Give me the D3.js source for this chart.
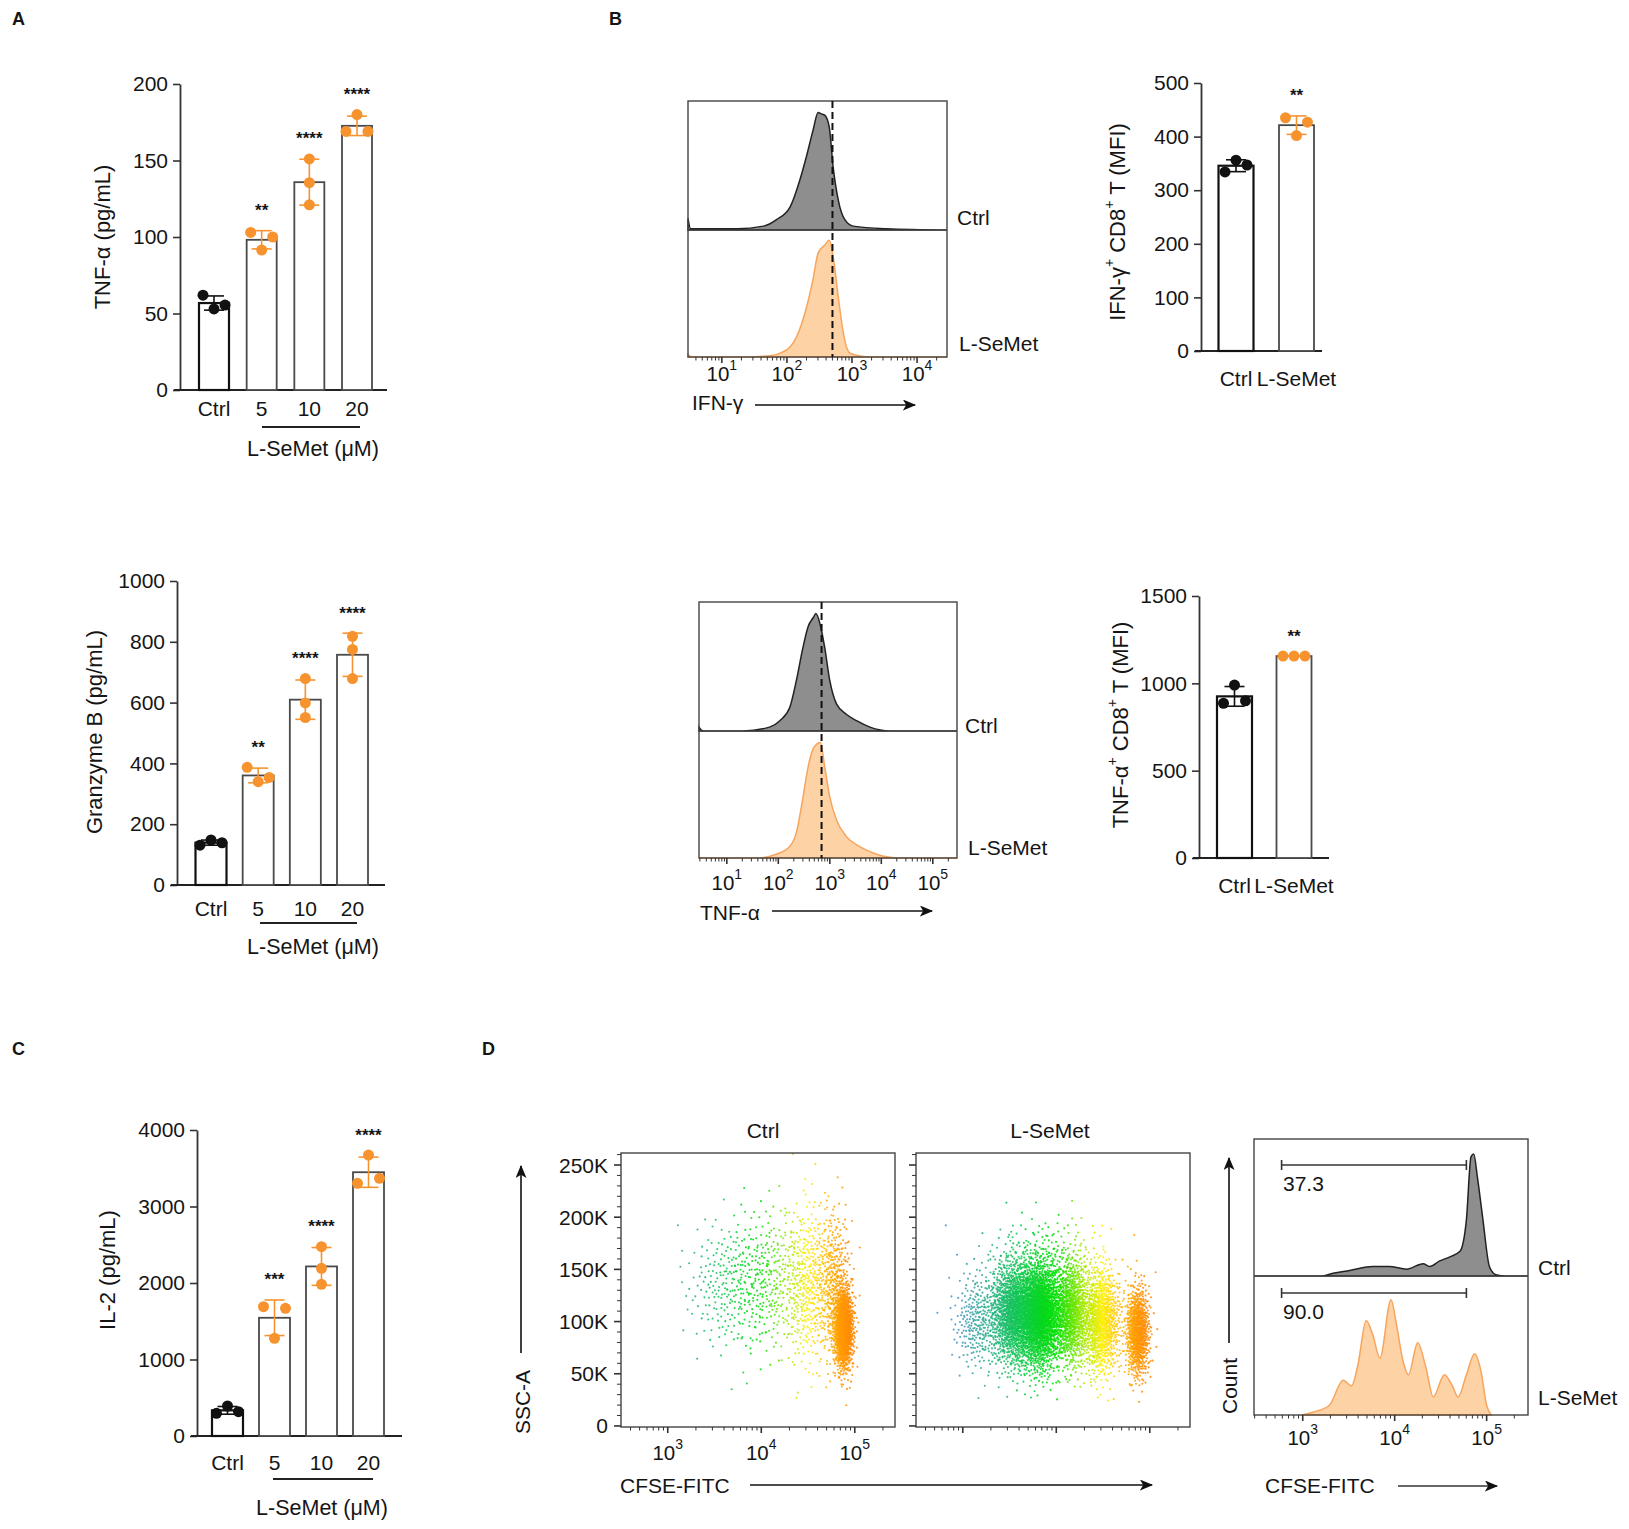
<!DOCTYPE html>
<html><head><meta charset="utf-8">
<script src="https://cdn.jsdelivr.net/npm/d3@7"></script>
<style>
body{margin:0;background:#fff}
text{font-family:"Liberation Sans",Arial,sans-serif;fill:#151515}
</style>
</head><body>
<svg id="fig" width="1629" height="1529"></svg>
<script>
// ================= DATA =================
const doseCategories = ["Ctrl", "5", "10", "20"];
const twoGroups = ["Ctrl", "L-SeMet"];

const tnfPoints  = [[62, 53, 55.5], [103, 91.5, 100], [151, 135.5, 121], [180, 169, 169]];
const tnfStars   = ["", "**", "****", "****"];
const tnfTicks   = [0, 50, 100, 150, 200];

const gzmbPoints = [[131, 148, 139], [387, 340, 354], [679, 599, 551], [818, 775, 679]];
const gzmbStars  = ["", "**", "****", "****"];
const gzmbTicks  = [0, 200, 400, 600, 800, 1000];

const il2Points  = [[296, 392, 318], [1690, 1669, 1277], [2475, 2192, 1983], [3673, 3303, 3368]];
const il2Stars   = ["", "***", "****", "****"];
const il2Ticks   = [0, 1000, 2000, 3000, 4000];

const ifnMfiPoints = [[334, 356, 347], [435, 402, 427]];
const ifnMfiStars  = ["", "**"];
const ifnMfiTicks  = [0, 100, 200, 300, 400, 500];

const tnfMfiPoints = [[990, 886, 900], [1156, 1156, 1156]];
const tnfMfiStars  = ["", "**"];
const tnfMfiTicks  = [0, 500, 1000, 1500];

// Flow histograms: [log10 intensity, relative height of lane]
const ifnHistCtrl = [[0.48,0.09],[0.52,0.01],[0.71,0.01],[1.23,0.01],[1.64,0.03],[1.84,0.08],[2.05,0.18],[2.2,0.39],[2.30,0.57],[2.40,0.77],[2.48,0.91],[2.53,0.90],[2.58,0.89],[2.65,0.80],[2.71,0.49],[2.79,0.23],[2.89,0.08],[3.02,0.03],[3.53,0.01],[4.46,0.0]];
const ifnHistSeMet = [[0.48,0.02],[0.55,0.0],[1.23,0.0],[1.74,0.01],[1.94,0.04],[2.15,0.16],[2.30,0.39],[2.40,0.61],[2.48,0.82],[2.58,0.88],[2.65,0.92],[2.71,0.79],[2.79,0.47],[2.87,0.18],[2.97,0.03],[3.28,0.0],[4.46,0.0]];
const ifnDashed = 2.70;

const tnfHistCtrl = [[0.46,0.03],[0.54,0.0],[1.32,0.0],[1.83,0.03],[2.03,0.08],[2.22,0.18],[2.35,0.39],[2.48,0.65],[2.58,0.81],[2.68,0.88],[2.73,0.91],[2.81,0.83],[2.90,0.65],[3.0,0.39],[3.13,0.21],[3.32,0.13],[3.52,0.08],[3.78,0.03],[4.17,0.0],[5.47,0.0]];
const tnfHistSeMet = [[0.46,0.0],[1.58,0.0],[1.96,0.03],[2.22,0.09],[2.35,0.2],[2.48,0.48],[2.58,0.72],[2.69,0.87],[2.82,0.91],[2.90,0.72],[3.0,0.48],[3.13,0.3],[3.32,0.17],[3.58,0.09],[3.91,0.03],[4.36,0.0],[5.47,0.0]];
const tnfDashed = 2.84;

const cfseHistCtrl = [[2.47,0.0],[3.2,0.0],[3.33,0.02],[3.51,0.04],[3.76,0.07],[3.94,0.07],[4.13,0.05],[4.31,0.09],[4.38,0.07],[4.49,0.11],[4.60,0.14],[4.71,0.18],[4.78,0.41],[4.83,0.87],[4.86,0.89],[4.90,0.72],[4.96,0.41],[5.03,0.07],[5.10,0.01],[5.21,0.0],[5.45,0.0]];
const cfseHistSeMet = [[2.99,0.0],[3.11,0.02],[3.29,0.07],[3.44,0.25],[3.53,0.21],[3.60,0.36],[3.69,0.68],[3.76,0.58],[3.84,0.41],[3.96,0.83],[4.02,0.65],[4.09,0.39],[4.15,0.29],[4.25,0.52],[4.34,0.34],[4.42,0.13],[4.54,0.29],[4.62,0.22],[4.69,0.13],[4.78,0.29],[4.87,0.44],[4.94,0.31],[5.0,0.07],[5.05,0.0]];
const cfseGate = [2.77, 4.78];
const cfseGateValues = ["37.3", "90.0"];

// CFSE vs SSC-A dot-plot populations: [log10 CFSE centre, SSC-A centre (K), log spread, SSC spread (K), events]
const scatterCtrl = [[3.65,135,0.22,30,240],[4.1,140,0.2,35,280],[4.5,135,0.13,38,420],[4.78,135,0.09,35,420],[4.88,93,0.05,19,1300]];
const scatterSeMet = [[3.15,100,0.12,22,260],[3.55,108,0.13,25,1500],[3.82,106,0.12,25,2200],[4.17,108,0.1,25,1000],[4.48,100,0.1,25,1000],[4.87,90,0.06,21,900],[3.9,150,0.35,25,300]];
const sscTicks = [0, 50, 100, 150, 200, 250];
const cfseColorStops = [2.9, 3.3, 3.6, 4.0, 4.3, 4.5, 4.72, 4.95];
const cfseColors = ["#4a8fc8", "#20b080", "#10c850", "#00e000", "#a8e800", "#ffee00", "#ffb000", "#ff8a00"];

// ================= DRAWING =================
const svg = d3.select("#fig");
svg.append("rect").attr("width",1629).attr("height",1529).attr("fill","#fff");
const ORANGE = "#f7932f";
const defs = svg.append("defs");
defs.append("marker").attr("id","arr").attr("viewBox","0 0 12 10").attr("refX",11).attr("refY",5)
  .attr("markerWidth",14).attr("markerHeight",11).attr("markerUnits","userSpaceOnUse").attr("orient","auto")
  .append("path").attr("d","M0,0 L12,5 L0,10 L3,5 Z").attr("fill","#111");

function arrow(x1,y1,x2,y2,col){
  svg.append("line").attr("x1",x1).attr("y1",y1).attr("x2",x2).attr("y2",y2)
    .attr("stroke",col||"#111").attr("stroke-width",1.6).attr("marker-end","url(#arr)");
}
function txt(x,y,s,opt){
  opt=opt||{};
  const t=svg.append("text").attr("x",x).attr("y",y).attr("font-size",opt.size||21)
    .attr("text-anchor",opt.anchor||"start").attr("dominant-baseline","central").text(s);
  if(opt.weight) t.attr("font-weight",opt.weight);
  return t;
}

// panel letters
[["A",12,19],["B",609,19],["C",12,1049],["D",482,1049]].forEach(([l,x,y])=>txt(x,y,l,{size:18,weight:"bold"}));

function layoutPoints(vals, y){
  const idx = vals.map((v,i)=>i).sort((a,b)=>vals[b]-vals[a]);
  const rows=[]; let cur=[idx[0]];
  for(let k=1;k<idx.length;k++){
    if(Math.abs(y(vals[idx[k]])-y(vals[idx[k-1]]))<11) cur.push(idx[k]); else {rows.push(cur);cur=[idx[k]];}
  }
  rows.push(cur);
  const off = new Array(vals.length).fill(0);
  rows.forEach(r=>{
    r.sort((a,b)=>a-b);
    if(r.length===2){off[r[0]]=-11;off[r[1]]=11;}
    else if(r.length>=3){r.forEach((i,j)=>off[i]=(j-(r.length-1)/2)*11);}
  });
  return off;
}

function barChart(c){
  const g = svg.append("g");
  const y = d3.scaleLinear().domain([0, c.ticks[c.ticks.length-1]]).range([c.yBottom, c.yTop]);
  const x = d3.scalePoint().domain(c.cats).range(c.centers);
  const ax = g.append("g").attr("transform",`translate(${c.axisX},0)`)
    .call(d3.axisLeft(y).tickValues(c.ticks).tickFormat(d3.format("d")).tickSize(7).tickPadding(5).tickSizeOuter(0));
  ax.select(".domain").attr("stroke","#333").attr("stroke-width",1.8);
  ax.selectAll(".tick line").attr("stroke","#333").attr("stroke-width",1.6);
  ax.selectAll(".tick text").attr("font-size",21).attr("font-family","Liberation Sans, Arial").attr("fill","#151515");
  g.append("line").attr("x1",c.axisX-6).attr("x2",c.xEnd).attr("y1",c.yBottom).attr("y2",c.yBottom)
    .attr("stroke","#222").attr("stroke-width",2);
  c.cats.forEach((cat,i)=>{
    const pts=c.points[i]; const m=d3.mean(pts); const sd=d3.deviation(pts);
    const cx=x(cat); const ctrl=i===0;
    g.append("rect").attr("x",cx-c.barW/2).attr("y",y(m)).attr("width",c.barW).attr("height",c.yBottom-y(m))
      .attr("fill","#fff").attr("stroke",ctrl?"#111":"#4a4a4a").attr("stroke-width",ctrl?2.2:1.8);
    const ec = ctrl?"#111":ORANGE;
    g.append("line").attr("x1",cx).attr("x2",cx).attr("y1",y(m+sd)).attr("y2",y(m-sd)).attr("stroke",ec).attr("stroke-width",1.6);
    [m+sd,m-sd].forEach(v=>g.append("line").attr("x1",cx-10).attr("x2",cx+10).attr("y1",y(v)).attr("y2",y(v)).attr("stroke",ec).attr("stroke-width",1.6));
    const off=layoutPoints(pts,y);
    pts.forEach((v,j)=>g.append("circle").attr("cx",cx+off[j]).attr("cy",y(v)).attr("r",5.5).attr("fill",ctrl?"#111":ORANGE));
    if(c.stars[i]) g.append("text").attr("x",cx).attr("y",y(Math.max(d3.max(pts),m+sd))-20)
      .attr("text-anchor","middle").attr("dominant-baseline","central").attr("font-size",17).attr("font-weight","bold").text(c.stars[i]);
    g.append("text").attr("x",cx).attr("y",c.catY).attr("text-anchor","middle").attr("dominant-baseline","central")
      .attr("font-size",21).text(cat);
  });
  if(c.under){
    g.append("line").attr("x1",c.under[0]).attr("x2",c.under[1]).attr("y1",c.under[2]).attr("y2",c.under[2]).attr("stroke","#222").attr("stroke-width",1.8);
    g.append("text").attr("x",c.under[3]).attr("y",c.under[4]).attr("text-anchor","middle").attr("dominant-baseline","central").attr("font-size",21.5).text("L-SeMet (μM)");
  }
  const yl = g.append("text").attr("transform",`translate(${c.yLab[0]},${c.yLab[1]}) rotate(-90)`)
    .attr("text-anchor","middle").attr("dominant-baseline","central").attr("font-size",22);
  c.yLabel.forEach(p=>{
    const t=yl.append("tspan").text(p[0]);
    if(p[1]) t.attr("baseline-shift","super").attr("font-size",14);
  });
}

barChart({ticks:tnfTicks,cats:doseCategories,points:tnfPoints,stars:tnfStars,axisX:180,yTop:84,yBottom:390,
  centers:[214,357],barW:30,xEnd:387,catY:408,under:[262,360,427,313,449],yLab:[102,237],yLabel:[["TNF-α (pg/mL)"]]});
barChart({ticks:gzmbTicks,cats:doseCategories,points:gzmbPoints,stars:gzmbStars,axisX:177,yTop:581,yBottom:885,
  centers:[211,352.5],barW:31,xEnd:385,catY:908,under:[260,357,923,313,947],yLab:[94,732],yLabel:[["Granzyme B (pg/mL)"]]});
barChart({ticks:il2Ticks,cats:doseCategories,points:il2Points,stars:il2Stars,axisX:197,yTop:1130,yBottom:1436,
  centers:[227.5,368.5],barW:31,xEnd:402,catY:1462,under:[273,373,1479,322,1508],yLab:[107,1270],yLabel:[["IL-2 (pg/mL)"]]});
barChart({ticks:ifnMfiTicks,cats:twoGroups,points:ifnMfiPoints,stars:ifnMfiStars,axisX:1201,yTop:83,yBottom:351,
  centers:[1236,1296.5],barW:35,xEnd:1322,catY:378,yLab:[1117,222],yLabel:[["IFN-γ"],["+",1],[" CD8"],["+",1],[" T (MFI)"]]});
barChart({ticks:tnfMfiTicks,cats:twoGroups,points:tnfMfiPoints,stars:tnfMfiStars,axisX:1199,yTop:596,yBottom:858,
  centers:[1234.5,1294],barW:35,xEnd:1329,catY:885,yLab:[1120,725],yLabel:[["TNF-α"],["+",1],[" CD8"],["+",1],[" T (MFI)"]]});

function logAxis(g, x, lo, hi, yb, labels, labelY){
  for(let k=Math.floor(lo);k<=Math.ceil(hi);k++){
    for(let m=1;m<10;m++){
      const v=m*Math.pow(10,k); const lv=Math.log10(v);
      if(lv<lo||lv>hi) continue;
      const major=m===1;
      g.append("line").attr("x1",x(v)).attr("x2",x(v)).attr("y1",yb).attr("y2",yb+(major?6:3.5))
        .attr("stroke","#333").attr("stroke-width",major?1.6:1);
      if(major&&labels){
        const t=g.append("text").attr("x",x(v)).attr("y",labelY).attr("text-anchor","middle").attr("dominant-baseline","central").attr("font-size",20.5);
        t.append("tspan").text("10");
        t.append("tspan").attr("baseline-shift","super").attr("font-size",14).text(k);
      }
    }
  }
}

function flowHist(c){
  const g=svg.append("g");
  const x=d3.scaleLog().domain([10**c.lo,10**c.hi]).range([c.x0,c.x1]);
  const lanes=[[c.mid,c.top],[c.bottom,c.mid]];
  c.series.forEach((s,i)=>{
    const y=d3.scaleLinear().domain([0,1]).range(lanes[i]);
    const area=d3.area().x(d=>x(10**d[0])).y0(lanes[i][0]).y1(d=>y(d[1])).curve(d3.curveMonotoneX);
    g.append("path").attr("d",area(s.data)).attr("fill",s.fill).attr("stroke",s.stroke).attr("stroke-width",1.5);
  });
  g.append("rect").attr("x",c.x0).attr("y",c.top).attr("width",c.x1-c.x0).attr("height",c.bottom-c.top)
    .attr("fill","none").attr("stroke","#444").attr("stroke-width",1.4);
  g.append("line").attr("x1",c.x0).attr("x2",c.x1).attr("y1",c.mid).attr("y2",c.mid).attr("stroke","#444").attr("stroke-width",1.2);
  if(c.dashed!==undefined) g.append("line").attr("x1",x(10**c.dashed)).attr("x2",x(10**c.dashed)).attr("y1",c.top).attr("y2",c.bottom)
    .attr("stroke","#111").attr("stroke-width",2).attr("stroke-dasharray","7,4");
  logAxis(g,x,c.lo,c.hi,c.bottom,true,c.labelY);
  return x;
}

flowHist({x0:688,x1:947,top:101,mid:230,bottom:357,lo:0.48,hi:4.46,labelY:373,dashed:ifnDashed,
  series:[{data:ifnHistCtrl,fill:"#8e8e8e",stroke:"#222"},{data:ifnHistSeMet,fill:"#fdd2a4",stroke:"#f7a55e"}]});
txt(957,217,"Ctrl"); txt(959,343,"L-SeMet");
txt(692,402,"IFN-γ"); arrow(755,405,915,405);

flowHist({x0:699,x1:957,top:602,mid:731,bottom:858,lo:0.46,hi:5.47,labelY:882,dashed:tnfDashed,
  series:[{data:tnfHistCtrl,fill:"#8e8e8e",stroke:"#222"},{data:tnfHistSeMet,fill:"#fdd2a4",stroke:"#f7a55e"}]});
txt(965,725,"Ctrl"); txt(968,847,"L-SeMet");
txt(700,912,"TNF-α"); arrow(772,911,932,911);

// ---- Dot plots ----
function halton(i,b){let f=1,r=0;while(i>0){f/=b;r+=f*(i%b);i=Math.floor(i/b);}return r;}
const dotColor=d3.scaleLinear().domain(cfseColorStops).range(cfseColors).clamp(true);
function dotPlot(c, pops, id, labels){
  const g=svg.append("g");
  const x=d3.scaleLog().domain([10**2.5,10**5.43]).range([c.x0,c.x0+274]);
  const y=d3.scaleLinear().domain([-1,261.5]).range([1427,1153]);
  defs.append("clipPath").attr("id",id).append("rect").attr("x",c.x0).attr("y",1153).attr("width",274).attr("height",274);
  const dg=g.append("g").attr("clip-path",`url(#${id})`);
  pops.forEach((p,ci)=>{
    for(let j=0;j<p[4];j++){
      const k=j+1+ci*4099;
      const u1=halton(k,2)||0.5, u2=halton(k,3);
      const r=Math.sqrt(-2*Math.log(u1)), a=2*Math.PI*u2;
      const lv=p[0]+p[2]*r*Math.cos(a), sv=p[1]+p[3]*r*Math.sin(a);
      dg.append("circle").attr("cx",x(10**lv)).attr("cy",y(sv)).attr("r",1.05).attr("fill",dotColor(lv)).attr("opacity",0.85);
    }
  });
  g.append("rect").attr("x",c.x0).attr("y",1153).attr("width",274).attr("height",274).attr("fill","none").attr("stroke","#444").attr("stroke-width",1.4);
  for(let v=0;v<=260;v+=10){
    const major=v%50===0;
    g.append("line").attr("x1",c.x0).attr("x2",c.x0-(major?7:4)).attr("y1",y(v)).attr("y2",y(v)).attr("stroke","#333").attr("stroke-width",major?1.6:1);
  }
  if(labels) sscTicks.forEach(v=>g.append("text").attr("x",c.x0-13).attr("y",y(v)).attr("text-anchor","end").attr("dominant-baseline","central").attr("font-size",21).text(v===0?"0":v+"K"));
  logAxis(g,x,2.5,5.43,1427,labels,1452);
  txt(c.x0+137+c.titleDx,1130,c.title,{anchor:"middle"});
}
dotPlot({x0:621,title:"Ctrl",titleDx:5},scatterCtrl,"clipA",true);
dotPlot({x0:916,title:"L-SeMet",titleDx:-3},scatterSeMet,"clipB",false);
svg.append("text").attr("transform","translate(522,1402) rotate(-90)").attr("text-anchor","middle").attr("dominant-baseline","central").attr("font-size",21).text("SSC-A");
arrow(521,1353,521,1166);
txt(620,1485,"CFSE-FITC"); arrow(750,1485,1152,1485);

// ---- CFSE histogram ----
const xc = flowHist({x0:1254,x1:1528,top:1139,mid:1276,bottom:1415,lo:2.47,hi:5.45,labelY:1437,
  series:[{data:cfseHistCtrl,fill:"#8e8e8e",stroke:"#222"},{data:cfseHistSeMet,fill:"#fdd2a4",stroke:"#f7a55e"}]});
[1165,1293].forEach((gy,i)=>{
  const a=xc(10**cfseGate[0]), b=xc(10**cfseGate[1]);
  svg.append("line").attr("x1",a).attr("x2",b).attr("y1",gy).attr("y2",gy).attr("stroke","#333").attr("stroke-width",1.6);
  [a,b].forEach(px=>svg.append("line").attr("x1",px).attr("x2",px).attr("y1",gy-5).attr("y2",gy+5).attr("stroke","#333").attr("stroke-width",1.6));
  txt(1283,gy+18,cfseGateValues[i]);
});
txt(1538,1267,"Ctrl"); txt(1538,1397,"L-SeMet");
svg.append("text").attr("transform","translate(1229,1386) rotate(-90)").attr("text-anchor","middle").attr("dominant-baseline","central").attr("font-size",21).text("Count");
arrow(1229,1343,1229,1158);
txt(1265,1485,"CFSE-FITC"); arrow(1398,1486,1497,1486,"#333");
</script>
</body></html>
